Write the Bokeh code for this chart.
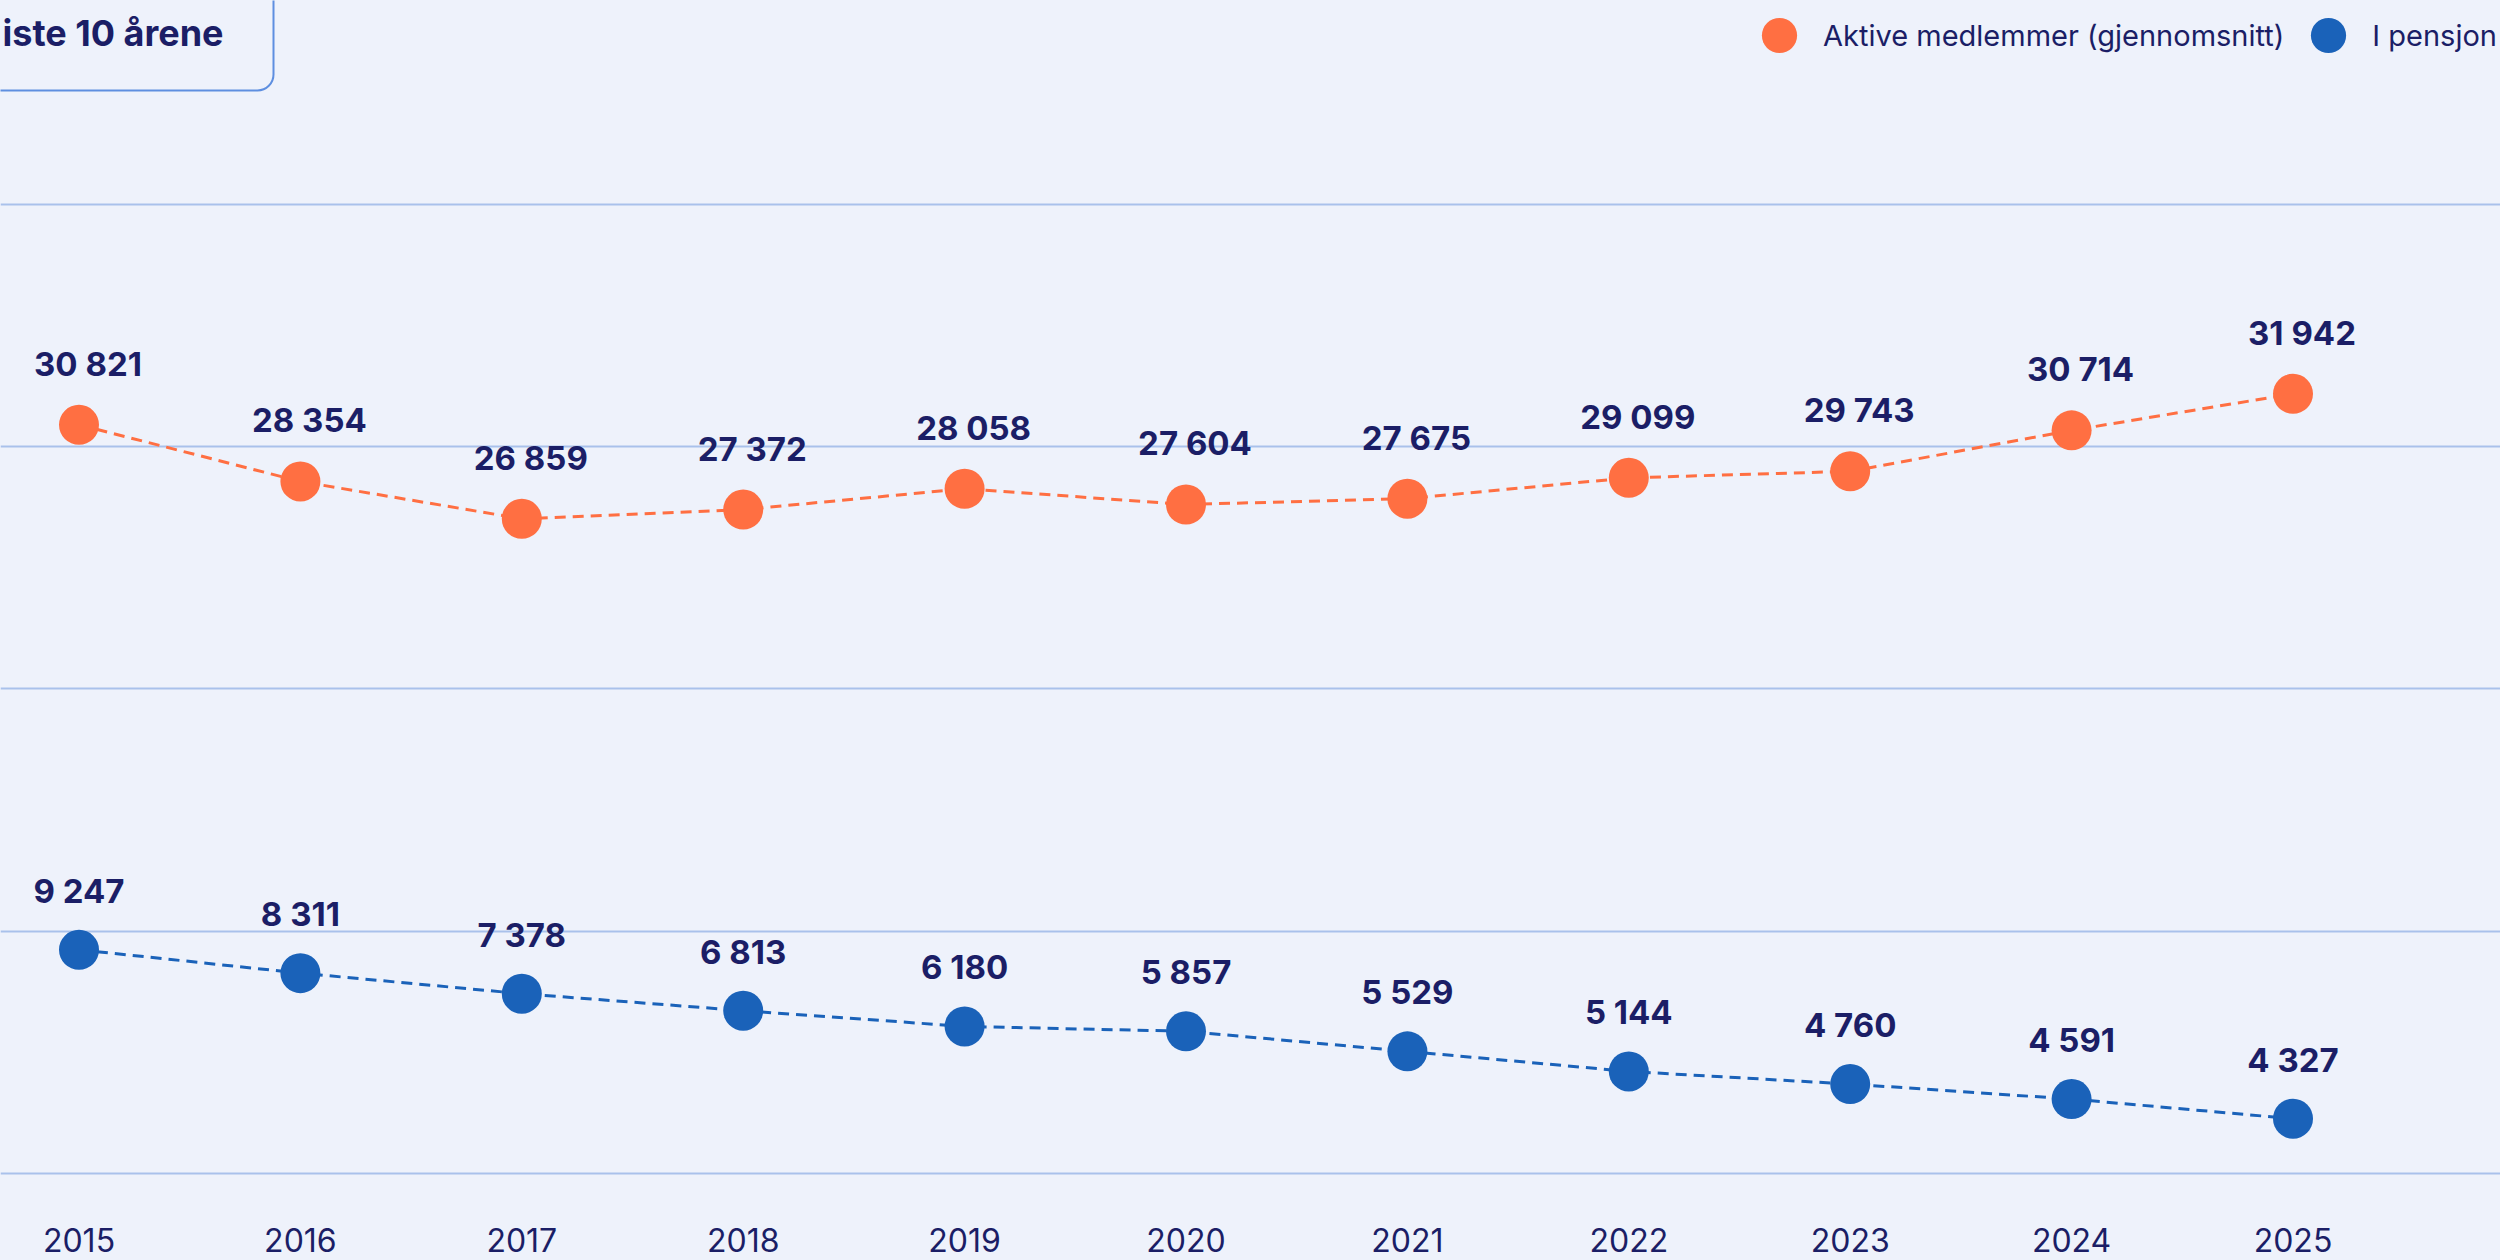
from bokeh.plotting import figure
from bokeh.models import (Range1d, LinearAxis, FixedTicker, Grid, Legend, LegendItem,
                          BoxAnnotation, Label, GlobalInlineStyleSheet, ColumnDataSource)
from bokeh.core.properties import value
from bokeh.embed import file_html
from bokeh.resources import INLINE

# ---------------- data ----------------
years = [2015, 2016, 2017, 2018, 2019, 2020, 2021, 2022, 2023, 2024, 2025]
year_labels = ["2015", "2016", "2017", "2018", "2019", "2020", "2021", "2022", "2023", "2024", "2025"]

# heights as drawn in the picture
aktive_plot = [30900, 28560, 27020, 27400, 28260, 27610, 27850, 28710, 28980, 30670, 32180]
pensjon_plot = [9225, 8260, 7410, 6710, 6060, 5860, 5030, 4200, 3680, 3060, 2250]

# value labels as printed
aktive_labels = ["30 821", "28 354", "26 859", "27 372", "28 058", "27 604",
                 "27 675", "29 099", "29 743", "30 714", "31 942"]
pensjon_labels = ["9 247", "8 311", "7 378", "6 813", "6 180", "5 857",
                  "5 529", "5 144", "4 760", "4 591", "4 327"]

series_names = ["Aktive medlemmer (gjennomsnitt)", "I pensjon"]
grid_values = [0, 10000, 20000, 30000, 40000]
title_text = "iste 10 årene"

# ---------------- style / layout ----------------
BG = "#EEF2FB"
NAVY = "#1B1E66"
ORANGE = "#FF6F42"
BLUE = "#1A62B9"
GRID = "#A9C1EB"
BOX = "#5E8FE0"
FONT = "Inter"

W, H = 2500, 1260
X_ANCHOR_PX, PX_PER_YEAR = 78.5, 221.4
ZERO_PX, PX_PER_UNIT = 1172.7, 242.2 / 10000
BORDER_BOTTOM = 70
AXIS_STANDOFF = 37
FRAME_B = H - BORDER_BOTTOM


def px_to_x(px):
    return years[0] + (px - X_ANCHOR_PX) / PX_PER_YEAR


def px_to_y(py):
    return (ZERO_PX - py) / PX_PER_UNIT


p = figure(width=W, height=H,
           x_range=Range1d(px_to_x(0), px_to_x(W)),
           y_range=Range1d(px_to_y(FRAME_B), px_to_y(0)),
           x_axis_type=None, y_axis_type=None,
           toolbar_location=None, output_backend="svg",
           min_border_left=0, min_border_right=0,
           min_border_top=0, min_border_bottom=BORDER_BOTTOM,
           background_fill_color=BG, border_fill_color=BG,
           outline_line_color=None)

p.stylesheets = [GlobalInlineStyleSheet(
    css=f"html, body {{ margin: 0; padding: 0; background: {BG}; overflow: hidden; }}")]

p.add_layout(Grid(dimension=1, ticker=FixedTicker(ticks=grid_values),
                  grid_line_color=GRID, grid_line_width=2))

xaxis = LinearAxis(ticker=FixedTicker(ticks=years),
                   major_label_overrides={y: t for y, t in zip(years, year_labels)},
                   axis_line_color=None, major_tick_line_color=None,
                   minor_tick_line_color=None, major_tick_out=0, major_tick_in=0,
                   major_label_standoff=AXIS_STANDOFF,
                   major_label_text_font=FONT, major_label_text_font_size="32px",
                   major_label_text_color=NAVY)
p.add_layout(xaxis, "below")

src_a = ColumnDataSource(dict(x=years, y=aktive_plot, t=aktive_labels))
src_p = ColumnDataSource(dict(x=years, y=pensjon_plot, t=pensjon_labels))

for src, col in ((src_a, ORANGE), (src_p, BLUE)):
    p.line("x", "y", source=src, line_color=col, line_width=3, line_dash="11 7")

r_a = p.scatter("x", "y", source=src_a, size=40, fill_color=ORANGE, line_color=None)
r_p = p.scatter("x", "y", source=src_p, size=40, fill_color=BLUE, line_color=None)

p.text("x", "y", text="t", source=src_a, text_font=value(FONT), text_font_style="bold",
       text_font_size="33px", text_color=NAVY, text_align="center",
       text_baseline="middle", x_offset=9, y_offset=-61)
p.text("x", "y", text="t", source=src_p, text_font=value(FONT), text_font_style="bold",
       text_font_size="33px", text_color=NAVY, text_align="center",
       text_baseline="middle", x_offset=0, y_offset=-59)

# title box (cut off at the top-left as in the picture)
p.add_layout(BoxAnnotation(left=px_to_x(-60), right=px_to_x(273),
                           top=px_to_y(-60), bottom=px_to_y(90),
                           fill_alpha=0, line_color=BOX, line_alpha=1,
                           line_width=2, border_radius=16))
p.add_layout(Label(x=px_to_x(223), y=px_to_y(32), text=title_text,
                   text_align="right", text_baseline="middle",
                   text_font=FONT, text_font_style="bold", text_font_size="36px",
                   text_color=NAVY))

legend = Legend(items=[LegendItem(label=series_names[0], renderers=[r_a]),
                       LegendItem(label=series_names[1], renderers=[r_p])],
                location=(1779 - 44, FRAME_B - 79),
                orientation="horizontal", glyph_width=88, glyph_height=88,
                label_standoff=0, spacing=0, padding=0, margin=0,
                border_line_color=None, background_fill_alpha=0,
                label_text_font=FONT, label_text_font_size="29px",
                label_text_color=NAVY)
p.add_layout(legend)

open("out.html", "w").write(file_html(p, INLINE))
